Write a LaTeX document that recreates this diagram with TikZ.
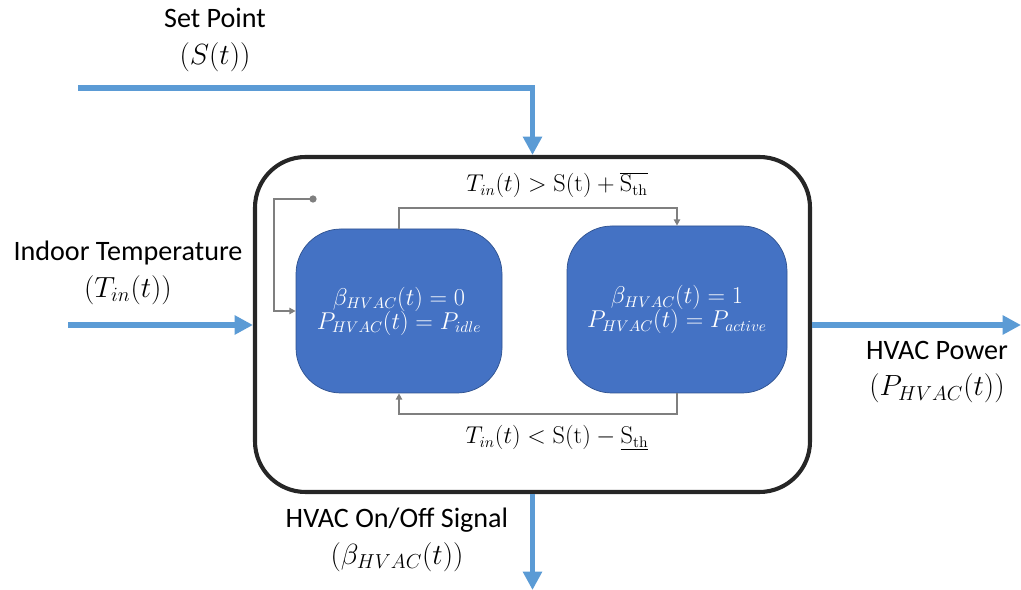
\documentclass[tikz,border=0pt]{standalone}
\usepackage[no-math]{fontspec}
\setmainfont{Carlito}
\usetikzlibrary{arrows.meta}
\definecolor{sblue}{HTML}{4472C4}
\definecolor{sblueb}{HTML}{2F528F}
\definecolor{ablue}{HTML}{5B9BD5}
\definecolor{lgray}{HTML}{7F7F7F}
\definecolor{dk}{HTML}{262626}
\tikzset{
  statebox/.style={draw=sblueb, line width=0.5pt, fill=sblue, rounded corners=32pt, text=white,
    align=center, font=\fontsize{16}{19}\selectfont, inner sep=0pt},
  outerbox/.style={draw=dk, line width=2.9pt, rounded corners=36pt, inner sep=0pt},
  bluearrow/.style={draw=ablue, line width=3.6pt, -{Triangle[length=13pt,width=13pt]}},
  grayarrow/.style={draw=lgray, line width=1.4pt, -{Triangle[length=4.5pt,width=4.5pt]}},
  lbl/.style={align=center, font=\fontsize{20}{26}\selectfont, inner sep=0pt},
  tlbl/.style={font=\fontsize{16}{19}\selectfont, inner sep=0pt},
}
\begin{document}
\begin{tikzpicture}[x=0.025cm, y=-0.025cm]
\useasboundingbox (0,0) rectangle (1021,590);
% outer box
\node[outerbox, minimum width=555*0.025cm, minimum height=335*0.025cm] (outer) at (532.5,324.5) {};
% states
\node[statebox, minimum width=206*0.025cm, minimum height=164*0.025cm] (s0) at (399,311)
  {$\beta_{HVAC}(t) = 0$\\[-2pt] $P_{HVAC}(t) = P_{idle}$};
\node[statebox, minimum width=220*0.025cm, minimum height=167*0.025cm] (s1) at (677,309.5)
  {$\beta_{HVAC}(t) = 1$\\[-2pt] $P_{HVAC}(t) = P_{active}$};
% transitions
\draw[grayarrow] (s0.north) -- ++(0,-21) -| (s1.north);
\draw[grayarrow] (s1.south) -- ++(0,21) -| (s0.south);
\node[tlbl] (tup) at (557,185) {$T_{in}(t) > \mathrm{S(t)} + \overline{\mathrm{S}_{\mathrm{th}}}$};
\node[tlbl] (tdn) at (557,438) {$T_{in}(t) < \mathrm{S(t)} - \underline{\mathrm{S}_{\mathrm{th}}}$};
% self loop
\coordinate (dot) at (313,199);
\coordinate (lc) at (274,311);
\fill[lgray] (dot) circle (2.6pt);
\draw[grayarrow] (dot) -| (lc) -- (s0.west);
% inputs / outputs
\coordinate (spstart) at (78,88);
\draw[bluearrow] (spstart) -| (outer.north);
\coordinate (tinstart) at (68,325);
\draw[bluearrow] (tinstart) -- (tinstart -| outer.west);
\coordinate (pend) at (1021,325);
\draw[bluearrow] (pend -| outer.east) -- (pend);
\coordinate (bend) at (532.5,590);
\draw[bluearrow] (outer.south) -- (bend);
% labels
\node[lbl] (lsp) at (215,40) {Set Point\\$(S(t))$};
\node[lbl] (ltin) at (128,273) {Indoor Temperature\\$(T_{in}(t))$};
\node[lbl] (lpow) at (937,372) {HVAC Power\\$(P_{HVAC}(t))$};
\node[lbl] (lsig) at (397,540) {HVAC On/Off Signal\\$(\beta_{HVAC}(t))$};
\end{tikzpicture}
\end{document}
